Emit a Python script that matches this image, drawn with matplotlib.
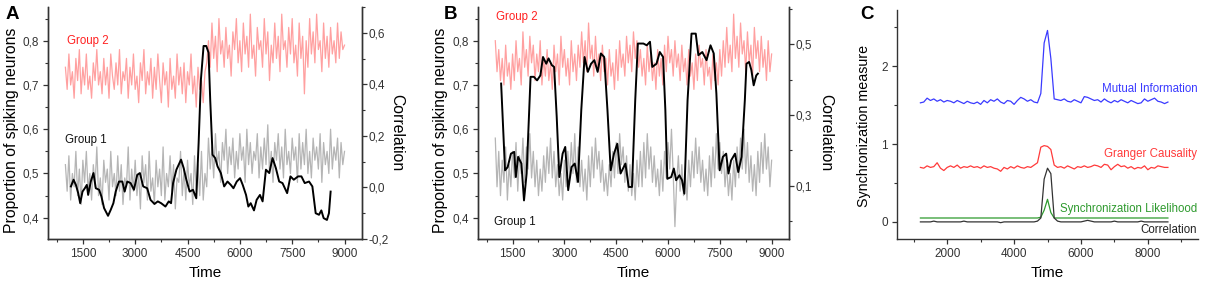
import numpy as np
import matplotlib
matplotlib.use("Agg")
import matplotlib.pyplot as plt
from matplotlib.ticker import MultipleLocator, FuncFormatter

plt.rcParams["font.family"] = ["Liberation Sans", "DejaVu Sans"]

# ---------------------------------------------------------------- data
# noisy population traces, sampled every 50 time units from 1000 to 9000
trace_time = np.arange(1000, 9001, 50)

a_group2 = [
    0.74, 0.69, 0.77, 0.70, 0.73, 0.67, 0.76, 0.71, 0.78, 0.68,
    0.74, 0.70, 0.77, 0.69, 0.72, 0.67, 0.75, 0.71, 0.78, 0.70,
    0.73, 0.68, 0.76, 0.70, 0.74, 0.67, 0.77, 0.72, 0.69, 0.75,
    0.70, 0.78, 0.68, 0.73, 0.71, 0.76, 0.67, 0.74, 0.70, 0.77,
    0.69, 0.72, 0.66, 0.75, 0.71, 0.78, 0.68, 0.73, 0.70, 0.76,
    0.67, 0.74, 0.69, 0.77, 0.71, 0.66, 0.75, 0.70, 0.73, 0.65,
    0.76, 0.69, 0.72, 0.67, 0.77, 0.70, 0.74, 0.68, 0.75, 0.66,
    0.73, 0.70, 0.77, 0.68, 0.72, 0.65, 0.74, 0.69, 0.71, 0.66,
    0.73, 0.75,
    0.80, 0.74, 0.84, 0.76, 0.81, 0.73, 0.85, 0.77, 0.80, 0.74,
    0.83, 0.76, 0.79, 0.72, 0.82, 0.78, 0.85, 0.75, 0.80, 0.73,
    0.84, 0.77, 0.81, 0.74, 0.86, 0.76, 0.79, 0.72, 0.83, 0.78,
    0.80, 0.74, 0.85, 0.77, 0.82, 0.71, 0.79, 0.75, 0.84, 0.76,
    0.81, 0.73, 0.86, 0.78, 0.80, 0.74, 0.83, 0.77, 0.85, 0.75,
    0.79, 0.72, 0.84, 0.76, 0.81, 0.68, 0.80, 0.74, 0.85, 0.77,
    0.82, 0.75, 0.86, 0.78, 0.80, 0.73, 0.84, 0.76, 0.81, 0.74,
    0.83, 0.77, 0.80, 0.75, 0.84, 0.76, 0.82, 0.78, 0.79,
]
a_group1 = [
    0.52, 0.46, 0.54, 0.44, 0.50, 0.47, 0.55, 0.45, 0.51, 0.43,
    0.53, 0.48, 0.55, 0.46, 0.50, 0.44, 0.52, 0.47, 0.56, 0.45,
    0.49, 0.43, 0.53, 0.48, 0.51, 0.44, 0.55, 0.47, 0.50, 0.45,
    0.54, 0.46, 0.52, 0.43, 0.49, 0.47, 0.56, 0.44, 0.51, 0.46,
    0.53, 0.45, 0.50, 0.42, 0.54, 0.48, 0.52, 0.44, 0.55, 0.46,
    0.49, 0.43, 0.53, 0.47, 0.51, 0.45, 0.56, 0.44, 0.50, 0.47,
    0.54, 0.46, 0.52, 0.42, 0.49, 0.48, 0.55, 0.45, 0.51, 0.44,
    0.53, 0.47, 0.50, 0.43, 0.54, 0.46, 0.52, 0.45, 0.55, 0.44,
    0.50, 0.47,
    0.58, 0.51, 0.56, 0.49, 0.59, 0.52, 0.55, 0.48, 0.57, 0.53,
    0.60, 0.50, 0.56, 0.52, 0.58, 0.49, 0.55, 0.51, 0.59, 0.53,
    0.56, 0.48, 0.60, 0.52, 0.57, 0.50, 0.55, 0.53, 0.59, 0.49,
    0.56, 0.51, 0.58, 0.52, 0.61, 0.50, 0.55, 0.48, 0.57, 0.53,
    0.59, 0.51, 0.56, 0.49, 0.60, 0.52, 0.55, 0.50, 0.58, 0.53,
    0.56, 0.48, 0.59, 0.51, 0.57, 0.52, 0.60, 0.50, 0.55, 0.49,
    0.58, 0.53, 0.56, 0.51, 0.59, 0.48, 0.57, 0.52, 0.55, 0.50,
    0.60, 0.51, 0.56, 0.53, 0.58, 0.49, 0.57, 0.52, 0.55,
]
b_group2 = [
    0.80, 0.73, 0.78, 0.71, 0.76, 0.70, 0.79, 0.72, 0.75, 0.69,
    0.77, 0.71, 0.80, 0.73, 0.76, 0.70, 0.82, 0.74, 0.78, 0.72,
    0.81, 0.75, 0.79, 0.71, 0.77, 0.73, 0.80, 0.70, 0.76, 0.72,
    0.78, 0.71, 0.75, 0.69, 0.79, 0.73, 0.77, 0.70, 0.81, 0.74,
    0.78, 0.72, 0.76, 0.70, 0.80, 0.73, 0.77, 0.71, 0.79, 0.74,
    0.82, 0.75, 0.80, 0.73, 0.84, 0.76, 0.79, 0.72, 0.81, 0.74,
    0.77, 0.71, 0.79, 0.73, 0.76, 0.70, 0.78, 0.72, 0.75, 0.69,
    0.78, 0.71, 0.80, 0.74, 0.77, 0.72, 0.81, 0.75, 0.79, 0.73,
    0.82, 0.76, 0.80, 0.74, 0.78, 0.72, 0.76, 0.70, 0.79, 0.73,
    0.77, 0.71, 0.75, 0.69, 0.78, 0.72, 0.76, 0.70, 0.79, 0.73,
    0.81, 0.75, 0.78, 0.72, 0.80, 0.74, 0.77, 0.71, 0.79, 0.73,
    0.76, 0.70, 0.78, 0.72, 0.75, 0.69, 0.77, 0.71, 0.79, 0.74,
    0.76, 0.70, 0.78, 0.72, 0.74, 0.69, 0.77, 0.71, 0.75, 0.70,
    0.78, 0.72, 0.80, 0.74, 0.83, 0.75, 0.79, 0.73, 0.86, 0.76,
    0.81, 0.74, 0.84, 0.77, 0.80, 0.73, 0.82, 0.75, 0.79, 0.72,
    0.83, 0.76, 0.80, 0.73, 0.81, 0.74, 0.78, 0.71, 0.80, 0.73,
    0.77,
]
b_group1 = [
    0.58, 0.47, 0.55, 0.45, 0.53, 0.48, 0.56, 0.44, 0.52, 0.47,
    0.55, 0.49, 0.57, 0.46, 0.54, 0.50, 0.58, 0.48, 0.56, 0.51,
    0.59, 0.49, 0.55, 0.47, 0.53, 0.45, 0.51, 0.46, 0.54, 0.48,
    0.56, 0.50, 0.58, 0.49, 0.55, 0.47, 0.52, 0.45, 0.50, 0.44,
    0.53, 0.47, 0.55, 0.49, 0.57, 0.50, 0.59, 0.48, 0.56, 0.47,
    0.53, 0.46, 0.51, 0.44, 0.54, 0.47, 0.56, 0.49, 0.58, 0.51,
    0.55, 0.48, 0.53, 0.46, 0.50, 0.45, 0.52, 0.47, 0.55, 0.49,
    0.57, 0.50, 0.59, 0.52, 0.56, 0.48, 0.54, 0.46, 0.52, 0.45,
    0.50, 0.44, 0.53, 0.47, 0.55, 0.47, 0.57, 0.49, 0.59, 0.51,
    0.56, 0.48, 0.54, 0.47, 0.51, 0.45, 0.53, 0.46, 0.55, 0.49,
    0.57, 0.51, 0.60, 0.50, 0.38, 0.48, 0.54, 0.46, 0.52, 0.45,
    0.50, 0.44, 0.53, 0.47, 0.55, 0.49, 0.58, 0.50, 0.56, 0.48,
    0.53, 0.46, 0.51, 0.45, 0.54, 0.47, 0.56, 0.49, 0.59, 0.51,
    0.57, 0.50, 0.55, 0.47, 0.52, 0.45, 0.50, 0.44, 0.53, 0.47,
    0.56, 0.49, 0.58, 0.51, 0.60, 0.50, 0.57, 0.48, 0.54, 0.46,
    0.52, 0.45, 0.55, 0.48, 0.57, 0.50, 0.59, 0.51, 0.56, 0.47,
    0.53,
]

# sliding-window correlation, panel A (one short burst near t=5000)
a_corr_time = [
    1158, 1234, 1300, 1367, 1424, 1490, 1557, 1614, 1652, 1728,
    1804, 1871, 1966, 2032, 2108, 2222, 2298, 2375, 2441, 2536,
    2631, 2698, 2774, 2869, 2964, 3059, 3135, 3230, 3344, 3439,
    3553, 3648, 3743, 3867, 3962, 4028, 4086, 4181, 4314, 4390,
    4466, 4561, 4656, 4751, 4818, 4884, 4960, 5036, 5103, 5150,
    5217, 5293, 5360, 5455, 5550, 5645, 5740, 5816, 5911, 6006,
    6082, 6177, 6243, 6310, 6405, 6481, 6576, 6652, 6747, 6842,
    6937, 7032, 7127, 7222, 7355, 7450, 7545, 7669, 7764, 7859,
    7983, 8078, 8173, 8268, 8335, 8401, 8496, 8553, 8601,
]
a_corr = [
    0.004, 0.030, 0.010, -0.022, -0.061, -0.016, -0.003, 0.010, -0.029, 0.023,
    0.056, -0.003, -0.009, -0.035, -0.080, -0.110, -0.087, -0.061, -0.016, 0.023,
    0.023, -0.016, 0.023, 0.017, -0.009, 0.049, 0.056, 0.004, -0.003, -0.048,
    -0.064, -0.054, -0.061, -0.074, -0.054, -0.061, 0.017, 0.069, 0.108, 0.075,
    0.030, -0.016, -0.009, -0.042, 0.172, 0.419, 0.549, 0.549, 0.523, 0.341,
    0.127, 0.114, 0.082, 0.056, 0.004, 0.023, 0.010, -0.003, 0.023, 0.036,
    0.010, -0.029, -0.074, -0.061, -0.089, -0.048, -0.029, -0.054, 0.069, 0.056,
    0.114, 0.075, 0.023, 0.017, -0.022, 0.043, 0.030, 0.043, 0.043, 0.017,
    0.023, 0.004, -0.100, -0.106, -0.089, -0.119, -0.126, -0.100, -0.016,
]

# sliding-window correlation, panel B (periodic synchronisation)
b_corr_time = [
    1169, 1282, 1358, 1453, 1547, 1595, 1661, 1756, 1831, 1907,
    2021, 2116, 2210, 2305, 2381, 2475, 2542, 2636, 2703, 2778,
    2854, 2949, 3025, 3110, 3205, 3300, 3394, 3489, 3584, 3679,
    3773, 3868, 3963, 4057, 4152, 4247, 4341, 4436, 4531, 4626,
    4767, 4862, 4957, 5051, 5127, 5288, 5383, 5478, 5544, 5667,
    5762, 5857, 5923, 5980, 6093, 6169, 6235, 6330, 6406, 6472,
    6566, 6680, 6803, 6879, 6993, 7116, 7230, 7324, 7400, 7495,
    7589, 7684, 7750, 7826, 7940, 8034, 8129, 8224, 8271, 8347,
    8413, 8480, 8555, 8602,
]
b_corr = [
    0.389, 0.144, 0.153, 0.191, 0.196, 0.125, 0.182, 0.163, 0.059, 0.135,
    0.408, 0.408, 0.398, 0.412, 0.464, 0.445, 0.460, 0.441, 0.436, 0.295,
    0.125, 0.191, 0.210, 0.088, 0.153, 0.163, 0.111, 0.314, 0.464, 0.422,
    0.445, 0.455, 0.422, 0.474, 0.464, 0.314, 0.144, 0.191, 0.219, 0.135,
    0.163, 0.097, 0.097, 0.342, 0.502, 0.502, 0.497, 0.507, 0.436, 0.445,
    0.478, 0.464, 0.314, 0.120, 0.125, 0.149, 0.116, 0.130, 0.116, 0.078,
    0.342, 0.530, 0.530, 0.469, 0.478, 0.455, 0.497, 0.474, 0.361, 0.144,
    0.182, 0.191, 0.135, 0.172, 0.191, 0.139, 0.182, 0.342, 0.445, 0.450,
    0.427, 0.384, 0.412, 0.417,
]

# panel C: four synchronisation measures, every 100 time units
c_time = np.arange(1200, 8601, 100)
c_mutual_info = [
    1.53, 1.54, 1.59, 1.56, 1.58, 1.55, 1.57, 1.54, 1.56, 1.55,
    1.53, 1.56, 1.54, 1.52, 1.55, 1.53, 1.52, 1.54, 1.51, 1.56,
    1.53, 1.57, 1.55, 1.58, 1.54, 1.52, 1.56, 1.55, 1.51, 1.56,
    1.60, 1.58, 1.55, 1.57, 1.54, 1.53, 1.65, 2.30, 2.46, 2.10,
    1.58, 1.57, 1.56, 1.58, 1.55, 1.54, 1.57, 1.55, 1.53, 1.61,
    1.60, 1.58, 1.56, 1.57, 1.54, 1.58, 1.55, 1.53, 1.56, 1.54,
    1.57, 1.55, 1.53, 1.56, 1.54, 1.52, 1.53, 1.58, 1.55, 1.57,
    1.59, 1.55, 1.54, 1.52, 1.54,
]
c_granger = [
    0.70, 0.69, 0.72, 0.70, 0.71, 0.76, 0.69, 0.66, 0.70, 0.72,
    0.70, 0.73, 0.69, 0.71, 0.70, 0.72, 0.70, 0.71, 0.69, 0.72,
    0.70, 0.71, 0.69, 0.68, 0.65, 0.70, 0.68, 0.71, 0.69, 0.72,
    0.70, 0.69, 0.71, 0.70, 0.73, 0.76, 0.96, 0.98, 0.97, 0.93,
    0.73, 0.70, 0.71, 0.69, 0.72, 0.70, 0.68, 0.71, 0.70, 0.72,
    0.70, 0.71, 0.73, 0.72, 0.70, 0.74, 0.73, 0.67, 0.71, 0.74,
    0.71, 0.72, 0.69, 0.71, 0.68, 0.70, 0.69, 0.72, 0.67, 0.70,
    0.69, 0.72, 0.71, 0.70, 0.70,
]
c_sync_likelihood = [
    0.05, 0.05, 0.05, 0.05, 0.05, 0.05, 0.05, 0.05, 0.05, 0.05,
    0.05, 0.05, 0.05, 0.05, 0.05, 0.05, 0.05, 0.05, 0.05, 0.05,
    0.05, 0.05, 0.05, 0.05, 0.05, 0.05, 0.05, 0.05, 0.05, 0.05,
    0.05, 0.05, 0.05, 0.05, 0.05, 0.05, 0.06, 0.15, 0.29, 0.12,
    0.05, 0.05, 0.05, 0.05, 0.05, 0.05, 0.05, 0.05, 0.05, 0.05,
    0.05, 0.05, 0.05, 0.05, 0.05, 0.05, 0.05, 0.05, 0.05, 0.05,
    0.05, 0.05, 0.05, 0.05, 0.05, 0.05, 0.05, 0.05, 0.05, 0.05,
    0.05, 0.05, 0.05, 0.05, 0.05,
]
c_correlation = [
    0.00, 0.00, 0.00, 0.00, 0.01, 0.00, 0.00, 0.00, 0.00, 0.00,
    0.00, 0.00, 0.00, 0.01, 0.00, 0.00, 0.00, 0.00, 0.00, 0.00,
    0.00, 0.00, 0.00, 0.00, -0.01, 0.00, 0.00, 0.00, 0.00, 0.00,
    0.00, 0.00, 0.00, 0.00, 0.00, 0.01, 0.05, 0.55, 0.69, 0.62,
    0.05, 0.01, 0.00, 0.00, 0.00, 0.00, 0.00, 0.00, 0.00, 0.01,
    0.02, 0.01, 0.00, 0.00, 0.00, 0.00, 0.00, 0.00, 0.01, 0.00,
    0.00, 0.00, 0.00, 0.00, 0.00, 0.00, 0.01, 0.00, 0.00, 0.00,
    0.00, 0.00, 0.00, 0.00, 0.00,
]

RED_TRACE = "#ff9090"
GRAY_TRACE = "#a8a8a8"
SPINE = "#333333"

comma = FuncFormatter(lambda v, _: f"{v:.1f}".replace(".", ","))


def style_axis(ax, pad=3):
    ax.spines["top"].set_visible(False)
    for side in ("left", "bottom", "right"):
        ax.spines[side].set_color(SPINE)
        ax.spines[side].set_linewidth(1.0)
    ax.tick_params(which="major", length=3.5, width=0.9, labelsize=8.5,
                   colors=SPINE, direction="out", pad=pad)
    ax.tick_params(which="minor", length=2.2, width=0.8, colors=SPINE,
                   direction="out")


fig = plt.figure(figsize=(12.05, 2.86), dpi=100)


# ---------------------------------------------------------------- panels A/B
def spike_panel(rect, g2, g1, ct, cv, rlim, rfirst, letter,
                g2_pos, g1_pos, letter_x, ylab_x, rlab_x):
    ax = fig.add_axes(rect)
    ax.plot(trace_time, g2, color=RED_TRACE, lw=0.9, alpha=0.85)
    ax.plot(trace_time, g1, color=GRAY_TRACE, lw=0.9, alpha=0.85)
    ax.set_xlim(500, 9500)
    ax.set_ylim(0.352, 0.876)
    ax.set_xticks([1500, 3000, 4500, 6000, 7500, 9000])
    ax.xaxis.set_minor_locator(MultipleLocator(750))
    ax.yaxis.set_major_locator(MultipleLocator(0.1))
    ax.yaxis.set_minor_locator(MultipleLocator(0.05))
    ax.yaxis.set_major_formatter(comma)
    ax.set_xlabel("Time", fontsize=11, labelpad=4)
    ax.set_ylabel("Proportion of spiking neurons", fontsize=11.3)
    ax.yaxis.set_label_coords(ylab_x, 0.47)
    style_axis(ax)
    ax.text(*g2_pos, "Group 2", color="#ff2020", fontsize=8.3,
            transform=ax.transAxes, va="center")
    ax.text(*g1_pos, "Group 1", color="#111111", fontsize=8.3,
            transform=ax.transAxes, va="center")
    fig.text(letter_x, 0.95, letter, fontsize=13.5, fontweight="bold",
             va="center")

    ax2 = ax.twinx()
    ax2.plot(ct, cv, color="black", lw=1.4)
    ax2.set_ylim(*rlim)
    ax2.set_yticks(np.arange(rfirst, rlim[1] + 1e-9, 0.2))
    ax2.yaxis.set_minor_locator(MultipleLocator(0.1))
    ax2.yaxis.set_major_formatter(comma)
    ax2.set_ylabel("Correlation", fontsize=11.3, rotation=270,
                   va="center")
    ax2.yaxis.set_label_coords(rlab_x, 0.46)
    style_axis(ax2, pad=1.5)
    return ax, ax2


spike_panel([0.0398, 0.1643, 0.2606, 0.811], a_group2, a_group1,
            a_corr_time, a_corr, (-0.2, 0.70), -0.2, "A",
            (0.06, 0.853), (0.055, 0.427), 0.005, -0.092, 1.11)
spike_panel([0.3967, 0.1643, 0.2580, 0.811], b_group2, b_group1,
            b_corr_time, b_corr, (-0.05, 0.605), 0.1, "B",
            (0.058, 0.957), (0.051, 0.073), 0.368, -0.096, 1.118)

# ---------------------------------------------------------------- panel C
MI_COL, GC_COL, SL_COL, CO_COL = "#3a3aff", "#ff3a3a", "#2e9a2e", "#333333"
axc = fig.add_axes([0.7444, 0.1643, 0.2498, 0.80])
axc.plot(c_time, c_mutual_info, color=MI_COL, lw=0.9)
axc.plot(c_time, c_granger, color=GC_COL, lw=0.9)
axc.plot(c_time, c_sync_likelihood, color=SL_COL, lw=0.9)
axc.plot(c_time, c_correlation, color=CO_COL, lw=0.9)
axc.set_xlim(500, 9500)
axc.set_ylim(-0.22, 2.72)
axc.xaxis.set_major_locator(MultipleLocator(2000))
axc.xaxis.set_minor_locator(MultipleLocator(1000))
axc.yaxis.set_major_locator(MultipleLocator(1))
axc.yaxis.set_minor_locator(MultipleLocator(0.5))
axc.set_xlabel("Time", fontsize=11, labelpad=4)
axc.set_ylabel("Synchronization measure", fontsize=10.3)
axc.yaxis.set_label_coords(-0.086, 0.496)
style_axis(axc)
axc.spines["right"].set_visible(False)
for label, y, col in [("Mutual Information", 1.71, MI_COL),
                      ("Granger Causality", 0.87, GC_COL),
                      ("Synchronization Likelihood", 0.17, SL_COL),
                      ("Correlation", -0.11, "#222222")]:
    axc.text(9480, y, label, color=col, fontsize=8.3, ha="right",
             va="center")
fig.text(0.714, 0.95, "C", fontsize=13.5, fontweight="bold", va="center")

fig.savefig("out.png", dpi=100)
